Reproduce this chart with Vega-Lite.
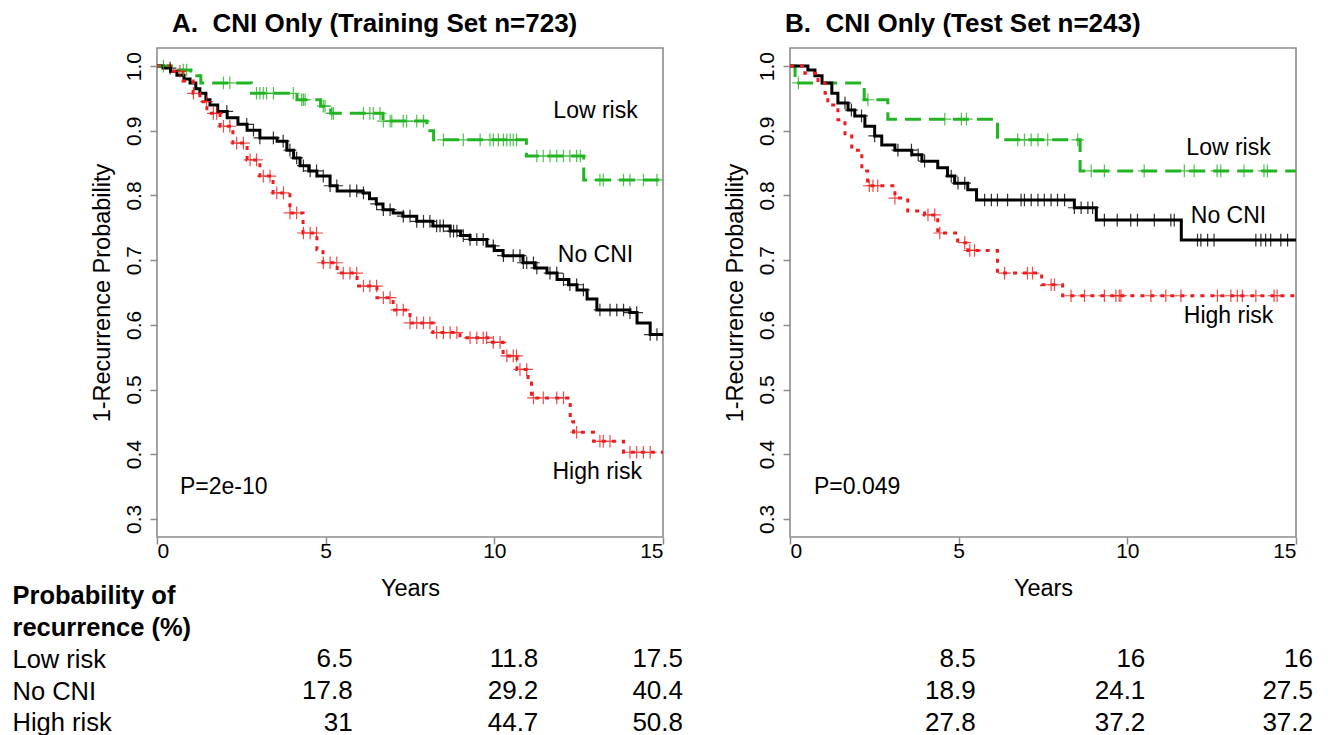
{
  "$schema": "https://vega.github.io/schema/vega-lite/v6.json",
  "background": "white",
  "padding": {"left": 12, "top": 10, "right": 10, "bottom": 0},
  "autosize": {"type": "pad"},
  "columns": 2,
  "spacing": {"row": 113, "column": 127},
  "bounds": "flush",
  "datasets": {
    "trainSteps": [
      {"group": "Low risk", "years": 0, "surv": 1},
      {"group": "Low risk", "years": 0.5, "surv": 0.994},
      {"group": "Low risk", "years": 1.0, "surv": 0.985},
      {"group": "Low risk", "years": 1.3, "surv": 0.974},
      {"group": "Low risk", "years": 2.8, "surv": 0.958},
      {"group": "Low risk", "years": 4.15, "surv": 0.948},
      {"group": "Low risk", "years": 4.85, "surv": 0.938},
      {"group": "Low risk", "years": 5.15, "surv": 0.927},
      {"group": "Low risk", "years": 6.7, "surv": 0.915},
      {"group": "Low risk", "years": 8.0, "surv": 0.9},
      {"group": "Low risk", "years": 8.2, "surv": 0.886},
      {"group": "Low risk", "years": 10.95, "surv": 0.861},
      {"group": "Low risk", "years": 12.65, "surv": 0.824},
      {"group": "Low risk", "years": 15, "surv": 0.824},
      {"group": "No CNI", "years": 0, "surv": 1},
      {"group": "No CNI", "years": 0.18, "surv": 0.997},
      {"group": "No CNI", "years": 0.4, "surv": 0.992},
      {"group": "No CNI", "years": 0.59, "surv": 0.986},
      {"group": "No CNI", "years": 0.8, "surv": 0.98},
      {"group": "No CNI", "years": 0.98, "surv": 0.974},
      {"group": "No CNI", "years": 1.15, "surv": 0.965},
      {"group": "No CNI", "years": 1.27, "surv": 0.958},
      {"group": "No CNI", "years": 1.45, "surv": 0.948},
      {"group": "No CNI", "years": 1.57, "surv": 0.94},
      {"group": "No CNI", "years": 1.8, "surv": 0.93},
      {"group": "No CNI", "years": 2.08, "surv": 0.92},
      {"group": "No CNI", "years": 2.4, "surv": 0.91},
      {"group": "No CNI", "years": 2.67, "surv": 0.901},
      {"group": "No CNI", "years": 3.05, "surv": 0.889},
      {"group": "No CNI", "years": 3.56, "surv": 0.884},
      {"group": "No CNI", "years": 3.85, "surv": 0.87},
      {"group": "No CNI", "years": 4.05, "surv": 0.858},
      {"group": "No CNI", "years": 4.24, "surv": 0.846},
      {"group": "No CNI", "years": 4.5, "surv": 0.838},
      {"group": "No CNI", "years": 4.74, "surv": 0.83},
      {"group": "No CNI", "years": 5.13, "surv": 0.815},
      {"group": "No CNI", "years": 5.34, "surv": 0.807},
      {"group": "No CNI", "years": 6.11, "surv": 0.804},
      {"group": "No CNI", "years": 6.3, "surv": 0.795},
      {"group": "No CNI", "years": 6.5, "surv": 0.787},
      {"group": "No CNI", "years": 6.7, "surv": 0.778},
      {"group": "No CNI", "years": 7.0, "surv": 0.773},
      {"group": "No CNI", "years": 7.29, "surv": 0.768},
      {"group": "No CNI", "years": 7.7, "surv": 0.76},
      {"group": "No CNI", "years": 8.18, "surv": 0.753},
      {"group": "No CNI", "years": 8.69, "surv": 0.745},
      {"group": "No CNI", "years": 9.0, "surv": 0.738},
      {"group": "No CNI", "years": 9.28, "surv": 0.732},
      {"group": "No CNI", "years": 9.78, "surv": 0.722},
      {"group": "No CNI", "years": 10.0, "surv": 0.715},
      {"group": "No CNI", "years": 10.26, "surv": 0.707},
      {"group": "No CNI", "years": 10.85, "surv": 0.696},
      {"group": "No CNI", "years": 11.2, "surv": 0.688},
      {"group": "No CNI", "years": 11.56, "surv": 0.68},
      {"group": "No CNI", "years": 11.86, "surv": 0.67},
      {"group": "No CNI", "years": 12.2, "surv": 0.662},
      {"group": "No CNI", "years": 12.45, "surv": 0.654},
      {"group": "No CNI", "years": 12.75, "surv": 0.64},
      {"group": "No CNI", "years": 13.04, "surv": 0.623},
      {"group": "No CNI", "years": 14.02, "surv": 0.619},
      {"group": "No CNI", "years": 14.23, "surv": 0.603},
      {"group": "No CNI", "years": 14.62, "surv": 0.585},
      {"group": "No CNI", "years": 15, "surv": 0.585},
      {"group": "High risk", "years": 0, "surv": 1},
      {"group": "High risk", "years": 0.39, "surv": 0.992},
      {"group": "High risk", "years": 0.77, "surv": 0.977},
      {"group": "High risk", "years": 1.07, "surv": 0.958},
      {"group": "High risk", "years": 1.27, "surv": 0.945},
      {"group": "High risk", "years": 1.48, "surv": 0.927},
      {"group": "High risk", "years": 1.87, "surv": 0.907},
      {"group": "High risk", "years": 2.25, "surv": 0.881},
      {"group": "High risk", "years": 2.67, "surv": 0.855},
      {"group": "High risk", "years": 3.05, "surv": 0.83},
      {"group": "High risk", "years": 3.44, "surv": 0.804},
      {"group": "High risk", "years": 3.94, "surv": 0.773},
      {"group": "High risk", "years": 4.33, "surv": 0.742},
      {"group": "High risk", "years": 4.74, "surv": 0.716},
      {"group": "High risk", "years": 4.92, "surv": 0.696},
      {"group": "High risk", "years": 5.34, "surv": 0.68},
      {"group": "High risk", "years": 5.93, "surv": 0.66},
      {"group": "High risk", "years": 6.52, "surv": 0.642},
      {"group": "High risk", "years": 7.0, "surv": 0.623},
      {"group": "High risk", "years": 7.5, "surv": 0.603},
      {"group": "High risk", "years": 8.18, "surv": 0.588},
      {"group": "High risk", "years": 8.98, "surv": 0.58},
      {"group": "High risk", "years": 9.87, "surv": 0.573},
      {"group": "High risk", "years": 10.26, "surv": 0.552},
      {"group": "High risk", "years": 10.67, "surv": 0.531},
      {"group": "High risk", "years": 11.0, "surv": 0.51},
      {"group": "High risk", "years": 11.1, "surv": 0.487},
      {"group": "High risk", "years": 12.25, "surv": 0.45},
      {"group": "High risk", "years": 12.35, "surv": 0.434},
      {"group": "High risk", "years": 12.94, "surv": 0.42},
      {"group": "High risk", "years": 13.83, "surv": 0.403},
      {"group": "High risk", "years": 15, "surv": 0.403}
    ],
    "trainCensor": [
      {"group": "Low risk", "years": 0.19, "surv": 1},
      {"group": "Low risk", "years": 0.78, "surv": 0.994},
      {"group": "Low risk", "years": 0.88, "surv": 0.994},
      {"group": "Low risk", "years": 1.97, "surv": 0.974},
      {"group": "Low risk", "years": 2.16, "surv": 0.974},
      {"group": "Low risk", "years": 2.95, "surv": 0.958},
      {"group": "Low risk", "years": 3.05, "surv": 0.958},
      {"group": "Low risk", "years": 3.15, "surv": 0.958},
      {"group": "Low risk", "years": 3.25, "surv": 0.958},
      {"group": "Low risk", "years": 3.45, "surv": 0.958},
      {"group": "Low risk", "years": 4.04, "surv": 0.958},
      {"group": "Low risk", "years": 4.29, "surv": 0.948},
      {"group": "Low risk", "years": 4.34, "surv": 0.948},
      {"group": "Low risk", "years": 4.39, "surv": 0.948},
      {"group": "Low risk", "years": 4.93, "surv": 0.938},
      {"group": "Low risk", "years": 4.98, "surv": 0.938},
      {"group": "Low risk", "years": 5.18, "surv": 0.927},
      {"group": "Low risk", "years": 5.23, "surv": 0.927},
      {"group": "Low risk", "years": 6.12, "surv": 0.927},
      {"group": "Low risk", "years": 6.31, "surv": 0.927},
      {"group": "Low risk", "years": 6.41, "surv": 0.927},
      {"group": "Low risk", "years": 6.61, "surv": 0.927},
      {"group": "Low risk", "years": 6.71, "surv": 0.915},
      {"group": "Low risk", "years": 6.91, "surv": 0.915},
      {"group": "Low risk", "years": 6.96, "surv": 0.915},
      {"group": "Low risk", "years": 7.3, "surv": 0.915},
      {"group": "Low risk", "years": 7.4, "surv": 0.915},
      {"group": "Low risk", "years": 7.7, "surv": 0.915},
      {"group": "Low risk", "years": 7.9, "surv": 0.915},
      {"group": "Low risk", "years": 8.49, "surv": 0.886},
      {"group": "Low risk", "years": 9.08, "surv": 0.886},
      {"group": "Low risk", "years": 9.58, "surv": 0.886},
      {"group": "Low risk", "years": 9.87, "surv": 0.886},
      {"group": "Low risk", "years": 9.97, "surv": 0.886},
      {"group": "Low risk", "years": 10.12, "surv": 0.886},
      {"group": "Low risk", "years": 10.27, "surv": 0.886},
      {"group": "Low risk", "years": 10.37, "surv": 0.886},
      {"group": "Low risk", "years": 10.47, "surv": 0.886},
      {"group": "Low risk", "years": 10.56, "surv": 0.886},
      {"group": "Low risk", "years": 10.66, "surv": 0.886},
      {"group": "Low risk", "years": 11.26, "surv": 0.861},
      {"group": "Low risk", "years": 11.45, "surv": 0.861},
      {"group": "Low risk", "years": 11.65, "surv": 0.861},
      {"group": "Low risk", "years": 11.85, "surv": 0.861},
      {"group": "Low risk", "years": 12.05, "surv": 0.861},
      {"group": "Low risk", "years": 12.24, "surv": 0.861},
      {"group": "Low risk", "years": 12.44, "surv": 0.861},
      {"group": "Low risk", "years": 12.55, "surv": 0.861},
      {"group": "Low risk", "years": 13.13, "surv": 0.824},
      {"group": "Low risk", "years": 13.23, "surv": 0.824},
      {"group": "Low risk", "years": 13.83, "surv": 0.824},
      {"group": "Low risk", "years": 14.02, "surv": 0.824},
      {"group": "Low risk", "years": 14.42, "surv": 0.824},
      {"group": "Low risk", "years": 14.82, "surv": 0.824},
      {"group": "No CNI", "years": 0.39, "surv": 0.997},
      {"group": "No CNI", "years": 2.07, "surv": 0.93},
      {"group": "No CNI", "years": 2.66, "surv": 0.91},
      {"group": "No CNI", "years": 2.86, "surv": 0.901},
      {"group": "No CNI", "years": 3.05, "surv": 0.889},
      {"group": "No CNI", "years": 3.45, "surv": 0.889},
      {"group": "No CNI", "years": 3.74, "surv": 0.884},
      {"group": "No CNI", "years": 3.94, "surv": 0.87},
      {"group": "No CNI", "years": 4.14, "surv": 0.858},
      {"group": "No CNI", "years": 4.34, "surv": 0.846},
      {"group": "No CNI", "years": 4.54, "surv": 0.838},
      {"group": "No CNI", "years": 4.73, "surv": 0.838},
      {"group": "No CNI", "years": 4.93, "surv": 0.83},
      {"group": "No CNI", "years": 5.13, "surv": 0.815},
      {"group": "No CNI", "years": 5.33, "surv": 0.815},
      {"group": "No CNI", "years": 5.72, "surv": 0.807},
      {"group": "No CNI", "years": 5.92, "surv": 0.807},
      {"group": "No CNI", "years": 6.12, "surv": 0.804},
      {"group": "No CNI", "years": 6.51, "surv": 0.787},
      {"group": "No CNI", "years": 6.71, "surv": 0.778},
      {"group": "No CNI", "years": 6.91, "surv": 0.778},
      {"group": "No CNI", "years": 7.3, "surv": 0.768},
      {"group": "No CNI", "years": 7.5, "surv": 0.768},
      {"group": "No CNI", "years": 7.7, "surv": 0.76},
      {"group": "No CNI", "years": 7.9, "surv": 0.76},
      {"group": "No CNI", "years": 8.09, "surv": 0.76},
      {"group": "No CNI", "years": 8.29, "surv": 0.753},
      {"group": "No CNI", "years": 8.39, "surv": 0.753},
      {"group": "No CNI", "years": 8.49, "surv": 0.753},
      {"group": "No CNI", "years": 8.69, "surv": 0.745},
      {"group": "No CNI", "years": 8.79, "surv": 0.745},
      {"group": "No CNI", "years": 8.89, "surv": 0.745},
      {"group": "No CNI", "years": 9.08, "surv": 0.738},
      {"group": "No CNI", "years": 9.28, "surv": 0.732},
      {"group": "No CNI", "years": 9.48, "surv": 0.732},
      {"group": "No CNI", "years": 9.67, "surv": 0.732},
      {"group": "No CNI", "years": 9.97, "surv": 0.722},
      {"group": "No CNI", "years": 10.27, "surv": 0.707},
      {"group": "No CNI", "years": 10.56, "surv": 0.707},
      {"group": "No CNI", "years": 10.76, "surv": 0.707},
      {"group": "No CNI", "years": 10.86, "surv": 0.696},
      {"group": "No CNI", "years": 10.96, "surv": 0.696},
      {"group": "No CNI", "years": 11.16, "surv": 0.696},
      {"group": "No CNI", "years": 11.26, "surv": 0.688},
      {"group": "No CNI", "years": 11.65, "surv": 0.68},
      {"group": "No CNI", "years": 11.85, "surv": 0.68},
      {"group": "No CNI", "years": 12.05, "surv": 0.67},
      {"group": "No CNI", "years": 12.24, "surv": 0.662},
      {"group": "No CNI", "years": 12.44, "surv": 0.662},
      {"group": "No CNI", "years": 12.64, "surv": 0.654},
      {"group": "No CNI", "years": 13.13, "surv": 0.623},
      {"group": "No CNI", "years": 13.43, "surv": 0.623},
      {"group": "No CNI", "years": 13.63, "surv": 0.623},
      {"group": "No CNI", "years": 13.83, "surv": 0.623},
      {"group": "No CNI", "years": 14.02, "surv": 0.619},
      {"group": "No CNI", "years": 14.22, "surv": 0.619},
      {"group": "No CNI", "years": 14.62, "surv": 0.585},
      {"group": "No CNI", "years": 14.82, "surv": 0.585},
      {"group": "High risk", "years": 0.68, "surv": 0.992},
      {"group": "High risk", "years": 1.08, "surv": 0.958},
      {"group": "High risk", "years": 1.47, "surv": 0.945},
      {"group": "High risk", "years": 1.67, "surv": 0.927},
      {"group": "High risk", "years": 1.77, "surv": 0.927},
      {"group": "High risk", "years": 1.97, "surv": 0.907},
      {"group": "High risk", "years": 2.16, "surv": 0.907},
      {"group": "High risk", "years": 2.36, "surv": 0.881},
      {"group": "High risk", "years": 2.56, "surv": 0.881},
      {"group": "High risk", "years": 2.76, "surv": 0.855},
      {"group": "High risk", "years": 2.95, "surv": 0.855},
      {"group": "High risk", "years": 3.15, "surv": 0.83},
      {"group": "High risk", "years": 3.35, "surv": 0.83},
      {"group": "High risk", "years": 3.55, "surv": 0.804},
      {"group": "High risk", "years": 3.75, "surv": 0.804},
      {"group": "High risk", "years": 3.94, "surv": 0.773},
      {"group": "High risk", "years": 4.14, "surv": 0.773},
      {"group": "High risk", "years": 4.34, "surv": 0.742},
      {"group": "High risk", "years": 4.54, "surv": 0.742},
      {"group": "High risk", "years": 4.73, "surv": 0.742},
      {"group": "High risk", "years": 4.93, "surv": 0.696},
      {"group": "High risk", "years": 5.13, "surv": 0.696},
      {"group": "High risk", "years": 5.33, "surv": 0.696},
      {"group": "High risk", "years": 5.52, "surv": 0.68},
      {"group": "High risk", "years": 5.72, "surv": 0.68},
      {"group": "High risk", "years": 5.92, "surv": 0.68},
      {"group": "High risk", "years": 6.12, "surv": 0.66},
      {"group": "High risk", "years": 6.31, "surv": 0.66},
      {"group": "High risk", "years": 6.51, "surv": 0.66},
      {"group": "High risk", "years": 6.71, "surv": 0.642},
      {"group": "High risk", "years": 6.91, "surv": 0.642},
      {"group": "High risk", "years": 7.11, "surv": 0.623},
      {"group": "High risk", "years": 7.3, "surv": 0.623},
      {"group": "High risk", "years": 7.5, "surv": 0.603},
      {"group": "High risk", "years": 7.7, "surv": 0.603},
      {"group": "High risk", "years": 7.9, "surv": 0.603},
      {"group": "High risk", "years": 8.09, "surv": 0.603},
      {"group": "High risk", "years": 8.29, "surv": 0.588},
      {"group": "High risk", "years": 8.49, "surv": 0.588},
      {"group": "High risk", "years": 8.69, "surv": 0.588},
      {"group": "High risk", "years": 8.89, "surv": 0.588},
      {"group": "High risk", "years": 9.28, "surv": 0.58},
      {"group": "High risk", "years": 9.48, "surv": 0.58},
      {"group": "High risk", "years": 9.67, "surv": 0.58},
      {"group": "High risk", "years": 9.77, "surv": 0.58},
      {"group": "High risk", "years": 9.97, "surv": 0.573},
      {"group": "High risk", "years": 10.17, "surv": 0.573},
      {"group": "High risk", "years": 10.37, "surv": 0.552},
      {"group": "High risk", "years": 10.56, "surv": 0.552},
      {"group": "High risk", "years": 10.66, "surv": 0.552},
      {"group": "High risk", "years": 10.76, "surv": 0.531},
      {"group": "High risk", "years": 10.96, "surv": 0.531},
      {"group": "High risk", "years": 11.16, "surv": 0.487},
      {"group": "High risk", "years": 11.45, "surv": 0.487},
      {"group": "High risk", "years": 11.85, "surv": 0.487},
      {"group": "High risk", "years": 12.05, "surv": 0.487},
      {"group": "High risk", "years": 12.44, "surv": 0.434},
      {"group": "High risk", "years": 13.13, "surv": 0.42},
      {"group": "High risk", "years": 13.23, "surv": 0.42},
      {"group": "High risk", "years": 13.43, "surv": 0.42},
      {"group": "High risk", "years": 14.02, "surv": 0.403},
      {"group": "High risk", "years": 14.22, "surv": 0.403},
      {"group": "High risk", "years": 14.42, "surv": 0.403},
      {"group": "High risk", "years": 14.62, "surv": 0.403}
    ],
    "testSteps": [
      {"group": "Low risk", "years": 0, "surv": 1},
      {"group": "Low risk", "years": 0.15, "surv": 0.974},
      {"group": "Low risk", "years": 2.2, "surv": 0.948},
      {"group": "Low risk", "years": 2.9, "surv": 0.918},
      {"group": "Low risk", "years": 6.15, "surv": 0.886},
      {"group": "Low risk", "years": 8.6, "surv": 0.838},
      {"group": "Low risk", "years": 15, "surv": 0.838},
      {"group": "No CNI", "years": 0, "surv": 1},
      {"group": "No CNI", "years": 0.53, "surv": 0.994},
      {"group": "No CNI", "years": 0.74, "surv": 0.985},
      {"group": "No CNI", "years": 0.95, "surv": 0.974},
      {"group": "No CNI", "years": 1.24, "surv": 0.958},
      {"group": "No CNI", "years": 1.42, "surv": 0.943},
      {"group": "No CNI", "years": 1.72, "surv": 0.932},
      {"group": "No CNI", "years": 1.92, "surv": 0.923},
      {"group": "No CNI", "years": 2.22, "surv": 0.907},
      {"group": "No CNI", "years": 2.51, "surv": 0.892},
      {"group": "No CNI", "years": 2.72, "surv": 0.878},
      {"group": "No CNI", "years": 3.11, "surv": 0.87},
      {"group": "No CNI", "years": 3.61, "surv": 0.863},
      {"group": "No CNI", "years": 3.91, "surv": 0.853},
      {"group": "No CNI", "years": 4.38, "surv": 0.843},
      {"group": "No CNI", "years": 4.67, "surv": 0.83},
      {"group": "No CNI", "years": 4.88, "surv": 0.819},
      {"group": "No CNI", "years": 5.27, "surv": 0.809},
      {"group": "No CNI", "years": 5.53, "surv": 0.793},
      {"group": "No CNI", "years": 8.43, "surv": 0.781},
      {"group": "No CNI", "years": 9.08, "surv": 0.762},
      {"group": "No CNI", "years": 11.6, "surv": 0.731},
      {"group": "No CNI", "years": 15, "surv": 0.731},
      {"group": "High risk", "years": 0, "surv": 1},
      {"group": "High risk", "years": 0.44, "surv": 0.989},
      {"group": "High risk", "years": 0.83, "surv": 0.974},
      {"group": "High risk", "years": 1.04, "surv": 0.958},
      {"group": "High risk", "years": 1.12, "surv": 0.94},
      {"group": "High risk", "years": 1.42, "surv": 0.917},
      {"group": "High risk", "years": 1.63, "surv": 0.892},
      {"group": "High risk", "years": 1.83, "surv": 0.87},
      {"group": "High risk", "years": 2.13, "surv": 0.838},
      {"group": "High risk", "years": 2.3, "surv": 0.815},
      {"group": "High risk", "years": 3.11, "surv": 0.796},
      {"group": "High risk", "years": 3.49, "surv": 0.776},
      {"group": "High risk", "years": 3.99, "surv": 0.77},
      {"group": "High risk", "years": 4.38, "surv": 0.742},
      {"group": "High risk", "years": 4.97, "surv": 0.727},
      {"group": "High risk", "years": 5.27, "surv": 0.715},
      {"group": "High risk", "years": 6.15, "surv": 0.68},
      {"group": "High risk", "years": 7.46, "surv": 0.662},
      {"group": "High risk", "years": 8.08, "surv": 0.645},
      {"group": "High risk", "years": 15, "surv": 0.645}
    ],
    "testCensor": [
      {"group": "Low risk", "years": 0.25, "surv": 0.974},
      {"group": "Low risk", "years": 2.31, "surv": 0.948},
      {"group": "Low risk", "years": 4.59, "surv": 0.918},
      {"group": "Low risk", "years": 5.08, "surv": 0.918},
      {"group": "Low risk", "years": 5.23, "surv": 0.918},
      {"group": "Low risk", "years": 6.75, "surv": 0.886},
      {"group": "Low risk", "years": 6.95, "surv": 0.886},
      {"group": "Low risk", "years": 7.15, "surv": 0.886},
      {"group": "Low risk", "years": 7.35, "surv": 0.886},
      {"group": "Low risk", "years": 7.64, "surv": 0.886},
      {"group": "Low risk", "years": 8.53, "surv": 0.886},
      {"group": "Low risk", "years": 8.93, "surv": 0.838},
      {"group": "Low risk", "years": 9.32, "surv": 0.838},
      {"group": "Low risk", "years": 10.5, "surv": 0.838},
      {"group": "Low risk", "years": 11.69, "surv": 0.838},
      {"group": "Low risk", "years": 11.98, "surv": 0.838},
      {"group": "Low risk", "years": 12.66, "surv": 0.838},
      {"group": "Low risk", "years": 12.77, "surv": 0.838},
      {"group": "Low risk", "years": 13.46, "surv": 0.838},
      {"group": "Low risk", "years": 14.05, "surv": 0.838},
      {"group": "Low risk", "years": 14.15, "surv": 0.838},
      {"group": "No CNI", "years": 1.63, "surv": 0.943},
      {"group": "No CNI", "years": 1.82, "surv": 0.932},
      {"group": "No CNI", "years": 2.12, "surv": 0.923},
      {"group": "No CNI", "years": 2.51, "surv": 0.892},
      {"group": "No CNI", "years": 3.2, "surv": 0.87},
      {"group": "No CNI", "years": 3.6, "surv": 0.87},
      {"group": "No CNI", "years": 3.8, "surv": 0.863},
      {"group": "No CNI", "years": 3.99, "surv": 0.853},
      {"group": "No CNI", "years": 4.78, "surv": 0.83},
      {"group": "No CNI", "years": 4.98, "surv": 0.819},
      {"group": "No CNI", "years": 5.18, "surv": 0.819},
      {"group": "No CNI", "years": 5.77, "surv": 0.793},
      {"group": "No CNI", "years": 5.97, "surv": 0.793},
      {"group": "No CNI", "years": 6.15, "surv": 0.793},
      {"group": "No CNI", "years": 6.45, "surv": 0.793},
      {"group": "No CNI", "years": 6.85, "surv": 0.793},
      {"group": "No CNI", "years": 6.95, "surv": 0.793},
      {"group": "No CNI", "years": 7.15, "surv": 0.793},
      {"group": "No CNI", "years": 7.35, "surv": 0.793},
      {"group": "No CNI", "years": 7.54, "surv": 0.793},
      {"group": "No CNI", "years": 7.74, "surv": 0.793},
      {"group": "No CNI", "years": 7.93, "surv": 0.793},
      {"group": "No CNI", "years": 8.14, "surv": 0.793},
      {"group": "No CNI", "years": 8.43, "surv": 0.781},
      {"group": "No CNI", "years": 8.63, "surv": 0.781},
      {"group": "No CNI", "years": 8.83, "surv": 0.781},
      {"group": "No CNI", "years": 8.97, "surv": 0.781},
      {"group": "No CNI", "years": 9.32, "surv": 0.762},
      {"group": "No CNI", "years": 9.7, "surv": 0.762},
      {"group": "No CNI", "years": 10.1, "surv": 0.762},
      {"group": "No CNI", "years": 10.3, "surv": 0.762},
      {"group": "No CNI", "years": 10.8, "surv": 0.762},
      {"group": "No CNI", "years": 11.29, "surv": 0.762},
      {"group": "No CNI", "years": 11.39, "surv": 0.762},
      {"group": "No CNI", "years": 12.08, "surv": 0.731},
      {"group": "No CNI", "years": 12.18, "surv": 0.731},
      {"group": "No CNI", "years": 12.38, "surv": 0.731},
      {"group": "No CNI", "years": 12.57, "surv": 0.731},
      {"group": "No CNI", "years": 13.81, "surv": 0.731},
      {"group": "No CNI", "years": 13.96, "surv": 0.731},
      {"group": "No CNI", "years": 14.1, "surv": 0.731},
      {"group": "No CNI", "years": 14.25, "surv": 0.731},
      {"group": "No CNI", "years": 14.55, "surv": 0.731},
      {"group": "No CNI", "years": 14.75, "surv": 0.731},
      {"group": "High risk", "years": 2.35, "surv": 0.815},
      {"group": "High risk", "years": 2.46, "surv": 0.815},
      {"group": "High risk", "years": 2.6, "surv": 0.815},
      {"group": "High risk", "years": 3.11, "surv": 0.796},
      {"group": "High risk", "years": 4.09, "surv": 0.77},
      {"group": "High risk", "years": 4.29, "surv": 0.77},
      {"group": "High risk", "years": 4.44, "surv": 0.742},
      {"group": "High risk", "years": 5.18, "surv": 0.727},
      {"group": "High risk", "years": 5.33, "surv": 0.715},
      {"group": "High risk", "years": 5.47, "surv": 0.715},
      {"group": "High risk", "years": 6.36, "surv": 0.68},
      {"group": "High risk", "years": 7.04, "surv": 0.68},
      {"group": "High risk", "years": 7.19, "surv": 0.68},
      {"group": "High risk", "years": 7.74, "surv": 0.662},
      {"group": "High risk", "years": 7.84, "surv": 0.662},
      {"group": "High risk", "years": 8.33, "surv": 0.645},
      {"group": "High risk", "years": 8.73, "surv": 0.645},
      {"group": "High risk", "years": 9.32, "surv": 0.645},
      {"group": "High risk", "years": 9.66, "surv": 0.645},
      {"group": "High risk", "years": 9.76, "surv": 0.645},
      {"group": "High risk", "years": 9.81, "surv": 0.645},
      {"group": "High risk", "years": 10.7, "surv": 0.645},
      {"group": "High risk", "years": 11.14, "surv": 0.645},
      {"group": "High risk", "years": 11.59, "surv": 0.645},
      {"group": "High risk", "years": 12.67, "surv": 0.645},
      {"group": "High risk", "years": 13.07, "surv": 0.645},
      {"group": "High risk", "years": 13.26, "surv": 0.645},
      {"group": "High risk", "years": 13.41, "surv": 0.645},
      {"group": "High risk", "years": 13.81, "surv": 0.645},
      {"group": "High risk", "years": 14.35, "surv": 0.645},
      {"group": "High risk", "years": 14.44, "surv": 0.645}
    ],
    "recurrence": [
      {"set": "train", "group": "Low risk", "year": 5, "pct": "6.5"},
      {"set": "train", "group": "Low risk", "year": 10, "pct": "11.8"},
      {"set": "train", "group": "Low risk", "year": 15, "pct": "17.5"},
      {"set": "train", "group": "No CNI", "year": 5, "pct": "17.8"},
      {"set": "train", "group": "No CNI", "year": 10, "pct": "29.2"},
      {"set": "train", "group": "No CNI", "year": 15, "pct": "40.4"},
      {"set": "train", "group": "High risk", "year": 5, "pct": "31"},
      {"set": "train", "group": "High risk", "year": 10, "pct": "44.7"},
      {"set": "train", "group": "High risk", "year": 15, "pct": "50.8"},
      {"set": "test", "group": "Low risk", "year": 5, "pct": "8.5"},
      {"set": "test", "group": "Low risk", "year": 10, "pct": "16"},
      {"set": "test", "group": "Low risk", "year": 15, "pct": "16"},
      {"set": "test", "group": "No CNI", "year": 5, "pct": "18.9"},
      {"set": "test", "group": "No CNI", "year": 10, "pct": "24.1"},
      {"set": "test", "group": "No CNI", "year": 15, "pct": "27.5"},
      {"set": "test", "group": "High risk", "year": 5, "pct": "27.8"},
      {"set": "test", "group": "High risk", "year": 10, "pct": "37.2"},
      {"set": "test", "group": "High risk", "year": 15, "pct": "37.2"}
    ]
  },
  "concat": [
    {
      "width": 506,
      "height": 489,
      "title": {"text": "A.\u00a0\u00a0CNI Only (Training Set n=723)", "anchor": "start", "frame": "group", "dx": 15, "fontSize": 26, "fontWeight": "bold", "baseline": "alphabetic", "offset": -10},
      "encoding": {
        "x": {"field": "years", "type": "quantitative", "scale": {"domain": [0, 15], "nice": false, "zero": false}, "axis": {"values": [0, 5, 10, 15], "title": "Years", "labelAngle": 0, "labelPadding": -4, "titlePadding": 15}},
        "y": {"field": "surv", "type": "quantitative", "scale": {"domain": [0.272, 1.028], "nice": false, "zero": false}, "axis": {"values": [0.3, 0.4, 0.5, 0.6, 0.7, 0.8, 0.9, 1.0], "format": ".1f", "title": "1-Recurrence Probability", "labelAngle": -90, "labelAlign": "center", "labelBaseline": "bottom", "labelPadding": 6, "titlePadding": 9}}
      },
      "layer": [
        {
          "data": {"name": "trainSteps"},
          "mark": {"type": "line", "interpolate": "step-after", "strokeWidth": 3},
          "encoding": {
            "color": {"field": "group", "type": "nominal", "scale": {"domain": ["Low risk", "No CNI", "High risk"], "range": ["#22b422", "#000000", "#ee1c1c"]}, "legend": null},
            "strokeDash": {"field": "group", "type": "nominal", "scale": {"domain": ["Low risk", "No CNI", "High risk"], "range": [[16, 8], [1, 0], [4, 6]]}, "legend": null}
          }
        },
        {
          "data": {"name": "trainCensor"},
          "mark": {"type": "point", "shape": "M0,-1V1M-1,0H1", "filled": false, "strokeWidth": 1.2, "size": 160, "opacity": 0.8},
          "encoding": {
            "color": {"field": "group", "type": "nominal", "scale": {"domain": ["Low risk", "No CNI", "High risk"], "range": ["#22b422", "#000000", "#ee1c1c"]}, "legend": null}
          }
        },
        {
          "data": {"values": [
            {"label": "Low risk", "years": 13.0, "surv": 0.93},
            {"label": "No CNI", "years": 13.0, "surv": 0.708},
            {"label": "High risk", "years": 13.05, "surv": 0.373}
          ]},
          "mark": {"type": "text", "fontSize": 23, "align": "center", "baseline": "middle", "color": "#000"},
          "encoding": {"text": {"field": "label", "type": "nominal"}}
        },
        {
          "data": {"values": [{"label": "P=2e-10", "years": 0.68, "surv": 0.349}]},
          "mark": {"type": "text", "fontSize": 23, "align": "left", "baseline": "middle", "color": "#000"},
          "encoding": {"text": {"field": "label", "type": "nominal"}}
        }
      ]
    },
    {
      "width": 506,
      "height": 489,
      "title": {"text": "B.\u00a0\u00a0CNI Only (Test Set n=243)", "anchor": "start", "frame": "group", "dx": -5, "fontSize": 26, "fontWeight": "bold", "baseline": "alphabetic", "offset": -10},
      "encoding": {
        "x": {"field": "years", "type": "quantitative", "scale": {"domain": [0, 15], "nice": false, "zero": false}, "axis": {"values": [0, 5, 10, 15], "title": "Years", "labelAngle": 0, "labelPadding": -4, "titlePadding": 15}},
        "y": {"field": "surv", "type": "quantitative", "scale": {"domain": [0.272, 1.028], "nice": false, "zero": false}, "axis": {"values": [0.3, 0.4, 0.5, 0.6, 0.7, 0.8, 0.9, 1.0], "format": ".1f", "title": "1-Recurrence Probability", "labelAngle": -90, "labelAlign": "center", "labelBaseline": "bottom", "labelPadding": 6, "titlePadding": 9}}
      },
      "layer": [
        {
          "data": {"name": "testSteps"},
          "mark": {"type": "line", "interpolate": "step-after", "strokeWidth": 3},
          "encoding": {
            "color": {"field": "group", "type": "nominal", "scale": {"domain": ["Low risk", "No CNI", "High risk"], "range": ["#22b422", "#000000", "#ee1c1c"]}, "legend": null},
            "strokeDash": {"field": "group", "type": "nominal", "scale": {"domain": ["Low risk", "No CNI", "High risk"], "range": [[16, 8], [1, 0], [4, 6]]}, "legend": null}
          }
        },
        {
          "data": {"name": "testCensor"},
          "mark": {"type": "point", "shape": "M0,-1V1M-1,0H1", "filled": false, "strokeWidth": 1.2, "size": 160, "opacity": 0.8},
          "encoding": {
            "color": {"field": "group", "type": "nominal", "scale": {"domain": ["Low risk", "No CNI", "High risk"], "range": ["#22b422", "#000000", "#ee1c1c"]}, "legend": null}
          }
        },
        {
          "data": {"values": [
            {"label": "Low risk", "years": 13.0, "surv": 0.873},
            {"label": "No CNI", "years": 13.0, "surv": 0.769},
            {"label": "High risk", "years": 13.0, "surv": 0.614}
          ]},
          "mark": {"type": "text", "fontSize": 23, "align": "center", "baseline": "middle", "color": "#000"},
          "encoding": {"text": {"field": "label", "type": "nominal"}}
        },
        {
          "data": {"values": [{"label": "P=0.049", "years": 0.71, "surv": 0.349}]},
          "mark": {"type": "text", "fontSize": 23, "align": "left", "baseline": "middle", "color": "#000"},
          "encoding": {"text": {"field": "label", "type": "nominal"}}
        }
      ]
    },
    {
      "width": 506,
      "height": 82,
      "view": {"stroke": null},
      "data": {"name": "recurrence"},
      "transform": [{"filter": "datum.set === 'train'"}],
      "encoding": {
        "x": {"field": "year", "type": "quantitative", "scale": {"domain": [0, 15], "nice": false, "zero": false}, "axis": null},
        "y": {"field": "group", "type": "nominal", "scale": {"type": "point", "domain": ["Low risk", "No CNI", "High risk"], "padding": 0.3},
          "axis": {"orient": "left", "domain": false, "ticks": false, "labelAlign": "left", "labelBaseline": "middle", "labelPadding": 145, "labelFontSize": 25.5, "labelColor": "#000",
            "title": ["Probability of", "recurrence (%)"], "titleAngle": 0, "titleAlign": "left", "titleBaseline": "middle", "titleX": -145, "titleY": -55, "titleFontSize": 25.5, "titleFontWeight": "bold", "titleLineHeight": 32, "titleColor": "#000"}},
        "text": {"field": "pct", "type": "nominal"}
      },
      "layer": [
        {"transform": [{"filter": "datum.year === 5"}], "mark": {"type": "text", "align": "right", "baseline": "middle", "dx": 27, "fontSize": 26, "color": "#000"}},
        {"transform": [{"filter": "datum.year === 10"}], "mark": {"type": "text", "align": "right", "baseline": "middle", "dx": 44, "fontSize": 26, "color": "#000"}},
        {"transform": [{"filter": "datum.year === 15"}], "mark": {"type": "text", "align": "right", "baseline": "middle", "dx": 20, "fontSize": 26, "color": "#000"}}
      ]
    },
    {
      "width": 506,
      "height": 82,
      "view": {"stroke": null},
      "data": {"name": "recurrence"},
      "transform": [{"filter": "datum.set === 'test'"}],
      "encoding": {
        "x": {"field": "year", "type": "quantitative", "scale": {"domain": [0, 15], "nice": false, "zero": false}, "axis": null},
        "y": {"field": "group", "type": "nominal", "scale": {"type": "point", "domain": ["Low risk", "No CNI", "High risk"], "padding": 0.3}, "axis": null},
        "text": {"field": "pct", "type": "nominal"}
      },
      "layer": [
        {"transform": [{"filter": "datum.year === 5"}], "mark": {"type": "text", "align": "right", "baseline": "middle", "dx": 17, "fontSize": 26, "color": "#000"}},
        {"transform": [{"filter": "datum.year === 10"}], "mark": {"type": "text", "align": "right", "baseline": "middle", "dx": 18, "fontSize": 26, "color": "#000"}},
        {"transform": [{"filter": "datum.year === 15"}], "mark": {"type": "text", "align": "right", "baseline": "middle", "dx": 17, "fontSize": 26, "color": "#000"}}
      ]
    }
  ],
  "config": {
    "font": "Liberation Sans",
    "view": {"stroke": "#8c8c8c", "strokeWidth": 1.6},
    "axis": {"domain": false, "grid": false, "tickColor": "#8c8c8c", "tickWidth": 1.5, "tickSize": 7, "labelColor": "#000", "titleColor": "#000", "labelFontSize": 21, "titleFontSize": 23.5, "titleFontWeight": "normal", "labelFont": "Liberation Sans", "titleFont": "Liberation Sans"},
    "title": {"color": "#000", "font": "Liberation Sans"}
  }
}
